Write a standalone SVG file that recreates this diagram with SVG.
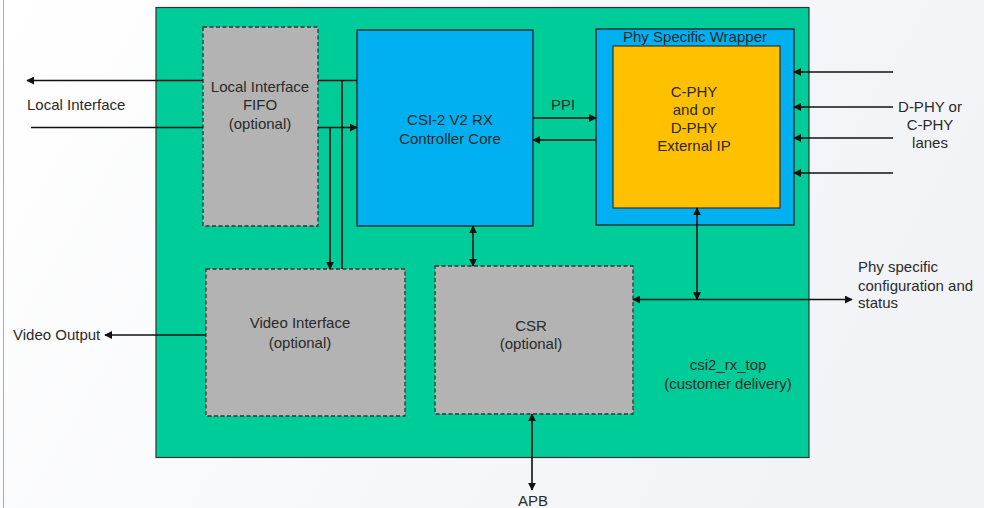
<svg xmlns="http://www.w3.org/2000/svg" width="984" height="508" viewBox="0 0 984 508">
<defs>
<linearGradient id="bg" x1="0" y1="0" x2="1" y2="0.3">
<stop offset="0" stop-color="#ffffff"/>
<stop offset="1" stop-color="#f2f3f7"/>
</linearGradient>
<marker id="ah" viewBox="0 0 10 10" refX="9" refY="5" markerWidth="8" markerHeight="8" markerUnits="userSpaceOnUse" orient="auto-start-reverse">
<path d="M0,0 L10,5 L0,10 z" fill="#111"/>
</marker>
</defs>
<style>
text{font-family:"Liberation Sans",Arial,sans-serif;font-size:15px;fill:#2a2a2a}
.c{text-anchor:middle}
.opt{fill:#b3b3b3;stroke:#333;stroke-width:1.3;stroke-dasharray:4,2.5}
.ln{fill:none;stroke:#111;stroke-width:1.6}
</style>
<rect x="0" y="0" width="984" height="508" fill="url(#bg)"/>
<line x1="3.5" y1="0" x2="3.5" y2="508" stroke="#aaa" stroke-width="1"/>
<g id="top">
<rect x="156" y="7.5" width="653" height="450" fill="#00cc99" stroke="#333" stroke-width="1.2"/>
<text class="c" x="728" y="370">csi2_rx_top</text>
<text class="c" x="728" y="389">(customer delivery)</text>
</g>
<g id="fifo">
<rect class="opt" x="203" y="27" width="115" height="199"/>
<text class="c" x="260" y="92">Local Interface</text>
<text class="c" x="260" y="110">FIFO</text>
<text class="c" x="260" y="129">(optional)</text>
</g>
<g id="controller">
<rect x="357" y="30" width="176" height="196" fill="#00b0f0" stroke="#222" stroke-width="1.3"/>
<text class="c" x="450" y="125">CSI-2 V2 RX</text>
<text class="c" x="450" y="144">Controller Core</text>
</g>
<g id="wrapper">
<rect x="596" y="29" width="198" height="196" fill="#00b0f0" stroke="#222" stroke-width="1.3"/>
<text class="c" x="695" y="42">Phy Specific Wrapper</text>
</g>
<g id="phy">
<rect x="613" y="46" width="167" height="162" fill="#ffc000" stroke="#333" stroke-width="1.2"/>
<text class="c" x="694" y="97">C-PHY</text>
<text class="c" x="694" y="115">and or</text>
<text class="c" x="694" y="133">D-PHY</text>
<text class="c" x="694" y="151">External IP</text>
</g>
<g id="video">
<rect class="opt" x="206" y="269" width="199" height="147"/>
<text class="c" x="300" y="328">Video Interface</text>
<text class="c" x="300" y="348">(optional)</text>
</g>
<g id="csr">
<rect class="opt" x="435" y="266" width="198" height="148"/>
<text class="c" x="531" y="331">CSR</text>
<text class="c" x="531" y="349">(optional)</text>
</g>
<g id="connectors">
<line class="ln" x1="203" y1="80.5" x2="27" y2="80.5" marker-end="url(#ah)"/>
<line class="ln" x1="31" y1="127.5" x2="203" y2="127.5"/>
<line class="ln" x1="318" y1="80.5" x2="357" y2="80.5"/>
<line class="ln" x1="318" y1="127.5" x2="357" y2="127.5" marker-end="url(#ah)"/>
<line class="ln" x1="330" y1="127.5" x2="330" y2="269" marker-end="url(#ah)"/>
<line class="ln" x1="342" y1="80.5" x2="342" y2="269"/>
<line class="ln" x1="533" y1="118" x2="596" y2="118" marker-end="url(#ah)"/>
<line class="ln" x1="596" y1="140" x2="533" y2="140" marker-end="url(#ah)"/>
<line class="ln" x1="473" y1="226" x2="473" y2="266" marker-start="url(#ah)" marker-end="url(#ah)"/>
<line class="ln" x1="893" y1="72" x2="794" y2="72" marker-end="url(#ah)"/>
<line class="ln" x1="893" y1="107" x2="794" y2="107" marker-end="url(#ah)"/>
<line class="ln" x1="893" y1="138" x2="794" y2="138" marker-end="url(#ah)"/>
<line class="ln" x1="893" y1="173" x2="794" y2="173" marker-end="url(#ah)"/>
<line class="ln" x1="697" y1="208" x2="697" y2="299.5" marker-start="url(#ah)" marker-end="url(#ah)"/>
<line class="ln" x1="633" y1="299.5" x2="852" y2="299.5" marker-start="url(#ah)" marker-end="url(#ah)"/>
<line class="ln" x1="532" y1="414" x2="532" y2="490" marker-start="url(#ah)" marker-end="url(#ah)"/>
<line class="ln" x1="206" y1="335" x2="105" y2="335" marker-end="url(#ah)"/>
<text class="c" x="563" y="110">PPI</text>
</g>
<g id="labels">
<text x="27" y="110">Local Interface</text>
<text x="13" y="340">Video Output</text>
<text class="c" x="930" y="112">D-PHY or</text>
<text class="c" x="930" y="130">C-PHY</text>
<text class="c" x="930" y="148">lanes</text>
<text x="858" y="272">Phy specific</text>
<text x="858" y="291">configuration and</text>
<text x="858" y="308">status</text>
<text class="c" x="533" y="506">APB</text>
</g>
</svg>
